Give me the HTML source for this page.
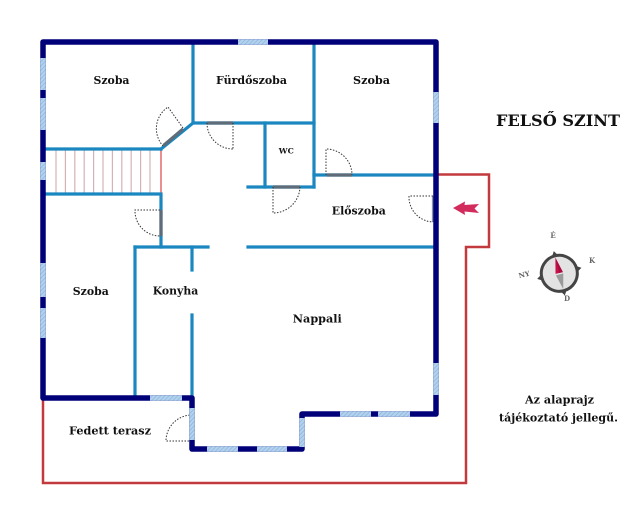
<!DOCTYPE html>
<html><head><meta charset="utf-8"><style>
html,body{margin:0;padding:0;background:#fff;}
svg{display:block;}
text{font-family:"DejaVu Serif","Liberation Serif",serif;font-weight:bold;fill:#111;}
</style></head><body>
<svg width="640" height="508" viewBox="0 0 640 508" xmlns="http://www.w3.org/2000/svg">
<defs>
<pattern id="win" width="3" height="3" patternUnits="userSpaceOnUse" patternTransform="rotate(45)">
<rect width="3" height="3" fill="#b4d2ee"/>
<rect width="1" height="3" fill="#94bce2"/>
</pattern>
</defs>
<rect width="640" height="508" fill="#fff"/>

<!-- red outline -->
<path d="M436,174.5 H489 V247 H466 V483 H43 V398" fill="none" stroke="#c23a3e" stroke-width="2.5"/>

<!-- stair treads -->
<g stroke="#d6b2b6" stroke-width="1.2">
<line x1="56" y1="149" x2="56" y2="194"/><line x1="65.4" y1="149" x2="65.4" y2="194"/>
<line x1="74.8" y1="149" x2="74.8" y2="194"/><line x1="84.2" y1="149" x2="84.2" y2="194"/>
<line x1="93.6" y1="149" x2="93.6" y2="194"/><line x1="103" y1="149" x2="103" y2="194"/>
<line x1="112.4" y1="149" x2="112.4" y2="194"/><line x1="121.8" y1="149" x2="121.8" y2="194"/>
<line x1="131.2" y1="149" x2="131.2" y2="194"/><line x1="140.6" y1="149" x2="140.6" y2="194"/>
<line x1="150" y1="149" x2="150" y2="194"/>
</g>
<line x1="161" y1="149" x2="161" y2="194" stroke="#e05050" stroke-width="1.3"/>

<!-- interior walls -->
<g stroke="#1a87c0" stroke-width="3.2" fill="none" stroke-linecap="square">
<path d="M193,44 V123 H314"/>
<path d="M193,123 L161,149"/>
<path d="M45,149 H161"/>
<path d="M45,194 H161 V247"/>
<path d="M135,247 H208"/>
<path d="M248,247 H434"/>
<path d="M135,247 V396"/>
<path d="M192,247 V270"/>
<path d="M192,315 V396"/>
<path d="M265,123 V187"/>
<path d="M248,187 H314"/>
<path d="M314,44 V187"/>
<path d="M314,175 H434"/>
</g>

<!-- door leaves (gray) -->
<g stroke="#5e6b78" stroke-width="3.2">
<line x1="163.5" y1="145.5" x2="183" y2="129"/>
<line x1="207" y1="123" x2="233" y2="123"/>
<line x1="273" y1="187" x2="300" y2="187"/>
<line x1="327" y1="175" x2="352" y2="175"/>
<line x1="161" y1="210" x2="161" y2="236"/>
<line x1="433.5" y1="196" x2="433.5" y2="222" stroke="#8a95a0"/>
</g>

<!-- door swings -->
<g stroke="#333" stroke-width="1" fill="none" stroke-dasharray="1.5,1.5">
<path d="M183,128 L168,107 A26,26 0 0 0 163,146"/>
<path d="M233,123 V149 M207,123 A26,26 0 0 0 233,149"/>
<path d="M273,187 V213 A27,27 0 0 0 300,187"/>
<path d="M326,175 V149 A26,26 0 0 1 352,175"/>
<path d="M433,196 H409 A25,25 0 0 0 433,222"/>
<path d="M160,210 H135 A25,25 0 0 0 160,236"/>
<path d="M192,441 H166 A26,26 0 0 1 192,415"/>
</g>

<!-- outer dark walls -->
<path d="M43,42 H436 V414 H302 V449 H192 V398 H43 Z" fill="none" stroke="#000078" stroke-width="5.5" stroke-linejoin="round"/>

<!-- windows -->
<g fill="url(#win)">
<rect x="238" y="39.3" width="30" height="5.4"/>
<rect x="433.3" y="92" width="5.4" height="31"/>
<rect x="433.3" y="363" width="5.4" height="32"/>
<rect x="40.3" y="58" width="5.4" height="32"/>
<rect x="40.3" y="98" width="5.4" height="32"/>
<rect x="40.3" y="162" width="5.4" height="18"/>
<rect x="40.3" y="263" width="5.4" height="34"/>
<rect x="40.3" y="308" width="5.4" height="30"/>
<rect x="340" y="411.3" width="31" height="5.4"/>
<rect x="378" y="411.3" width="32" height="5.4"/>
<rect x="299.3" y="418" width="5.4" height="29"/>
<rect x="207" y="446.3" width="31" height="5.4"/>
<rect x="257" y="446.3" width="30" height="5.4"/>
<rect x="189.3" y="408" width="5.4" height="32"/>
<rect x="150" y="395.3" width="32" height="5.4"/>
</g>

<!-- labels -->
<g font-size="10.7" text-anchor="middle">
<text x="111.5" y="84" textLength="36" lengthAdjust="spacingAndGlyphs">Szoba</text>
<text x="251.5" y="84" textLength="71" lengthAdjust="spacingAndGlyphs">Fürdőszoba</text>
<text x="371.5" y="84" textLength="37" lengthAdjust="spacingAndGlyphs">Szoba</text>
<text x="358.8" y="214.3" textLength="54" lengthAdjust="spacingAndGlyphs">Előszoba</text>
<text x="90.8" y="295" textLength="36" lengthAdjust="spacingAndGlyphs">Szoba</text>
<text x="175.5" y="294.3" textLength="45.5" lengthAdjust="spacingAndGlyphs">Konyha</text>
<text x="317.3" y="322.7" textLength="49" lengthAdjust="spacingAndGlyphs">Nappali</text>
<text x="110" y="434.3" textLength="82" lengthAdjust="spacingAndGlyphs">Fedett terasz</text>
</g>
<text x="286.3" y="153.3" font-size="7.5" text-anchor="middle" textLength="15" lengthAdjust="spacingAndGlyphs">WC</text>

<text x="558" y="126" font-size="16" text-anchor="middle" textLength="124" lengthAdjust="spacingAndGlyphs">FELSŐ SZINT</text>
<text x="559.5" y="403.5" font-size="11" text-anchor="middle" textLength="69" lengthAdjust="spacingAndGlyphs">Az alaprajz</text>
<text x="558.5" y="421.5" font-size="11" text-anchor="middle" textLength="119" lengthAdjust="spacingAndGlyphs">tájékoztató jellegű.</text>

<!-- entrance arrow -->
<path d="M453,208 L465,201.5 L464.5,205 L479,204 L474.5,208.5 L479,213 L464.5,211.5 L465,215 Z" fill="#d22c5c"/>

<!-- compass -->
<g transform="rotate(-14 559.3 273.3)">
<circle cx="559.3" cy="273.3" r="18" fill="#e3e3e3" stroke="#444" stroke-width="3"/>
<polygon points="555.8,256 562.8,256 559.3,250.5" fill="#444"/>
<polygon points="555.8,290.6 562.8,290.6 559.3,296.1" fill="#444"/>
<polygon points="576.6,269.8 576.6,276.8 582.1,273.3" fill="#444"/>
<polygon points="542,269.8 542,276.8 536.5,273.3" fill="#444"/>
<polygon points="559.3,257 555.5,273 563.1,273" fill="#c8104a"/>
<polygon points="559.3,289.5 555.5,274.5 563.1,274.5" fill="#9a9a9a"/>
<polygon points="559.3,257 559.3,273 563.1,273" fill="#8a0a32" opacity="0.5"/>
</g>
<g font-size="7" fill="#666" text-anchor="middle" style="fill:#666">
<text x="553" y="238" style="fill:#666">É</text>
<text x="592" y="263" style="fill:#666">K</text>
<text x="567" y="301" style="fill:#666">D</text>
<text x="524" y="277" style="fill:#666" transform="rotate(-14 524 274)">NY</text>
</g>
</svg>
</body></html>
